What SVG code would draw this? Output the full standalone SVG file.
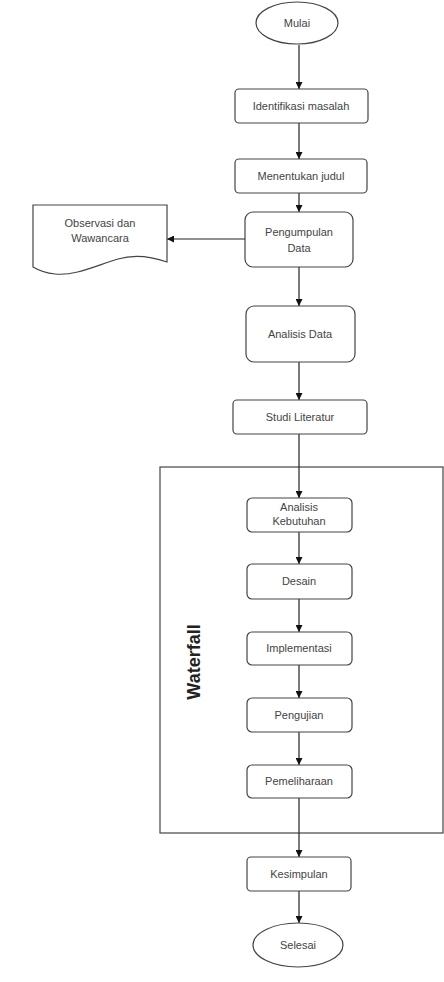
<svg xmlns="http://www.w3.org/2000/svg" width="444" height="982" viewBox="0 0 444 982">
<defs>
<marker id="ah" viewBox="0 0 10 10" refX="10" refY="5" markerWidth="7" markerHeight="7" markerUnits="userSpaceOnUse" orient="auto">
<path d="M0,0 L10,5 L0,10 Z" fill="#111"/>
</marker>
<style>
.n{fill:#fff;stroke:#444;stroke-width:1.2}
.t{font-family:"Liberation Sans",Arial,sans-serif;font-size:11px;fill:#444;text-anchor:middle;dominant-baseline:central}
.c{stroke:#222;stroke-width:1.2;fill:none;marker-end:url(#ah)}
</style>
</defs>
<rect width="444" height="982" fill="#fff"/>
<g id="waterfall">
<rect x="160" y="467" width="283" height="366" fill="#fff" stroke="#444" stroke-width="1.2"/>
<text x="194" y="662" transform="rotate(-90 194 662)" font-family="Liberation Sans,Arial,sans-serif" font-size="18" font-weight="bold" fill="#222" text-anchor="middle" dominant-baseline="central">Waterfall</text>
</g>
<g id="connectors">
<line class="c" x1="299" y1="45" x2="299" y2="89"/>
<line class="c" x1="299" y1="123" x2="299" y2="159"/>
<line class="c" x1="299" y1="193" x2="299" y2="212"/>
<line class="c" x1="245" y1="239" x2="167" y2="239"/>
<line class="c" x1="299" y1="267" x2="299" y2="306"/>
<line class="c" x1="299" y1="362" x2="299" y2="400"/>
<line class="c" x1="299" y1="434" x2="299" y2="498"/>
<line class="c" x1="299" y1="532" x2="299" y2="564"/>
<line class="c" x1="299" y1="599" x2="299" y2="632"/>
<line class="c" x1="299" y1="665" x2="299" y2="698"/>
<line class="c" x1="299" y1="732" x2="299" y2="765"/>
<line class="c" x1="299" y1="798" x2="299" y2="857"/>
<line class="c" x1="299" y1="891" x2="299" y2="923"/>
</g>
<g id="mulai">
<ellipse class="n" cx="297" cy="23" rx="41" ry="21"/>
<text class="t" x="297" y="23">Mulai</text>
</g>
<g id="identifikasi">
<rect class="n" x="235" y="89" width="133" height="34" rx="4"/>
<text class="t" x="301" y="106">Identifikasi masalah</text>
</g>
<g id="menentukan">
<rect class="n" x="235" y="159" width="132" height="34" rx="4"/>
<text class="t" x="301" y="176">Menentukan judul</text>
</g>
<g id="pengumpulan">
<rect class="n" x="245" y="212" width="108" height="55" rx="8"/>
<text class="t" x="299" y="232">Pengumpulan</text>
<text class="t" x="299" y="248">Data</text>
</g>
<g id="observasi">
<path class="n" d="M33,205 L167,205 L167,262 C150,256 135,254 118,259 C95,266 75,276 55,274 C45,273 38,270 33,267 Z"/>
<text class="t" x="100" y="223">Observasi dan</text>
<text class="t" x="100" y="238">Wawancara</text>
</g>
<g id="analisis-data">
<rect class="n" x="246" y="306" width="109" height="56" rx="8"/>
<text class="t" x="300" y="334">Analisis Data</text>
</g>
<g id="studi">
<rect class="n" x="233" y="400" width="134" height="34" rx="4"/>
<text class="t" x="300" y="417">Studi Literatur</text>
</g>
<g id="analisis-kebutuhan">
<rect class="n" x="247" y="498" width="105" height="34" rx="5"/>
<text class="t" x="299" y="507">Analisis</text>
<text class="t" x="299" y="521">Kebutuhan</text>
</g>
<g id="desain">
<rect class="n" x="247" y="564" width="105" height="35" rx="5"/>
<text class="t" x="299" y="581">Desain</text>
</g>
<g id="implementasi">
<rect class="n" x="247" y="632" width="105" height="33" rx="5"/>
<text class="t" x="299" y="648">Implementasi</text>
</g>
<g id="pengujian">
<rect class="n" x="247" y="698" width="105" height="34" rx="5"/>
<text class="t" x="299" y="715">Pengujian</text>
</g>
<g id="pemeliharaan">
<rect class="n" x="247" y="765" width="105" height="33" rx="5"/>
<text class="t" x="299" y="781">Pemeliharaan</text>
</g>
<g id="kesimpulan">
<rect class="n" x="247" y="857" width="104" height="34" rx="4"/>
<text class="t" x="299" y="874">Kesimpulan</text>
</g>
<g id="selesai">
<ellipse class="n" cx="298" cy="945" rx="45" ry="22"/>
<text class="t" x="298" y="945">Selesai</text>
</g>
</svg>
